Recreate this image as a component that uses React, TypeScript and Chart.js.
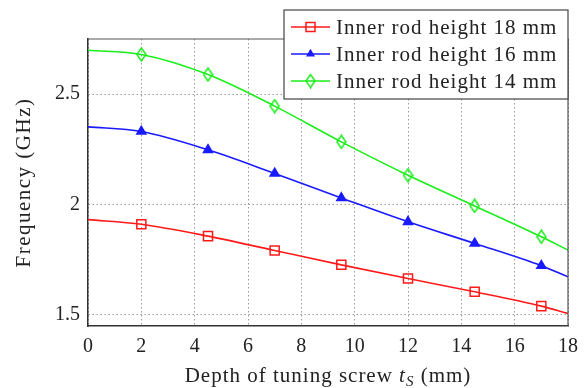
import React, { useEffect, useRef } from 'react';
import { Chart, registerables } from 'chart.js';

Chart.register(...registerables);

const xValues = [0, 2, 4.5, 7, 9.5, 12, 14.5, 17, 18];
const rod18 = [1.932, 1.911, 1.857, 1.792, 1.727, 1.665, 1.605, 1.54, 1.507];
const rod16 = [2.352, 2.331, 2.248, 2.141, 2.03, 1.922, 1.824, 1.723, 1.673];
const rod14 = [2.699, 2.68, 2.589, 2.446, 2.284, 2.133, 1.994, 1.854, 1.794];
const seriesLabels = ['Inner rod height 18 mm', 'Inner rod height 16 mm', 'Inner rod height 14 mm'];
const xTicks = [0, 2, 4, 6, 8, 10, 12, 14, 16, 18];
const yTicks = [1.5, 2, 2.5];
const xTitle = ['Depth of tuning screw ', 't', 'S', ' (mm)'];
const yTitle = 'Frequency (GHz)';

const RED = '#ff1a1a';
const BLUE = '#1a1aff';
const GREEN = '#1aee1a';
const SERIF = '"Liberation Serif", "DejaVu Serif", serif';

function makeDiamond(color: string) {
  const c = document.createElement('canvas');
  c.width = 11;
  c.height = 15;
  const g = c.getContext('2d')!;
  g.strokeStyle = color;
  g.lineWidth = 1.5;
  g.beginPath();
  g.moveTo(5.5, 1);
  g.lineTo(10, 7.5);
  g.lineTo(5.5, 14);
  g.lineTo(1, 7.5);
  g.closePath();
  g.stroke();
  return c;
}

function radii(r: number) {
  return xValues.map((_, i) => (i === 0 || i === xValues.length - 1 ? 0 : r));
}

export default function App() {
  const ref = useRef<HTMLCanvasElement | null>(null);

  useEffect(() => {
    const canvas = ref.current!;
    const diamond = makeDiamond(GREEN);

    const drawMarker = (ctx: CanvasRenderingContext2D, kind: number, x: number, y: number) => {
      ctx.save();
      if (kind === 0) {
        ctx.strokeStyle = RED;
        ctx.lineWidth = 1.5;
        ctx.strokeRect(x - 4.5, y - 4.5, 9, 9);
      } else if (kind === 1) {
        ctx.fillStyle = BLUE;
        ctx.beginPath();
        ctx.moveTo(x, y - 5.2);
        ctx.lineTo(x + 4.5, y + 2.6);
        ctx.lineTo(x - 4.5, y + 2.6);
        ctx.closePath();
        ctx.fill();
      } else {
        ctx.drawImage(diamond, x - diamond.width / 2, y - diamond.height / 2);
      }
      ctx.restore();
    };

    const decor = {
      id: 'decor',
      afterDraw(chart: any) {
        const ctx: CanvasRenderingContext2D = chart.ctx;
        const { left, right, top, bottom } = chart.chartArea;
        ctx.save();
        // top and right frame
        ctx.strokeStyle = '#555';
        ctx.lineWidth = 1.2;
        ctx.beginPath();
        ctx.moveTo(left, top);
        ctx.lineTo(right, top);
        ctx.lineTo(right, bottom);
        ctx.stroke();

        // legend
        const bw = 284;
        const bx = right - bw;
        const by = 10;
        const bh = 89;
        ctx.fillStyle = '#fff';
        ctx.fillRect(bx, by, bw, bh);
        ctx.strokeStyle = '#444';
        ctx.lineWidth = 1.2;
        ctx.strokeRect(bx, by, bw, bh);
        const colors = [RED, BLUE, GREEN];
        ctx.font = `21px ${SERIF}`;
        ctx.textBaseline = 'middle';
        ctx.textAlign = 'left';
        (ctx as any).letterSpacing = '1px';
        seriesLabels.forEach((lab, i) => {
          const y = by + 17 + i * 27;
          ctx.strokeStyle = colors[i];
          ctx.lineWidth = 1.6;
          ctx.beginPath();
          ctx.moveTo(bx + 7, y);
          ctx.lineTo(bx + 46, y);
          ctx.stroke();
          drawMarker(ctx, i, bx + 26.5, y);
          ctx.fillStyle = '#222';
          ctx.fillText(lab, bx + 52, y + 1);
        });

        // x title
        ctx.fillStyle = '#222';
        ctx.textBaseline = 'alphabetic';
        const fNorm = `21px ${SERIF}`;
        const fIt = `italic 21px ${SERIF}`;
        const fSub = `italic 15px ${SERIF}`;
        const fonts = [fNorm, fIt, fSub, fNorm];
        const widths = xTitle.map((t, i) => {
          ctx.font = fonts[i];
          return ctx.measureText(t).width;
        });
        const total = widths.reduce((a, b) => a + b, 0);
        let cx = (left + right) / 2 - total / 2;
        const baseY = 382;
        xTitle.forEach((t, i) => {
          ctx.font = fonts[i];
          ctx.fillText(t, cx, i === 2 ? baseY + 4 : baseY);
          cx += widths[i];
        });

        // y title
        ctx.save();
        ctx.translate(24, (top + bottom) / 2);
        ctx.rotate(-Math.PI / 2);
        ctx.font = `21px ${SERIF}`;
        ctx.textAlign = 'center';
        ctx.textBaseline = 'middle';
        (ctx as any).letterSpacing = '1.5px';
        ctx.fillText(yTitle, 0, 0);
        ctx.restore();
        ctx.restore();
      },
    };

    const mk = (data: number[], color: string, style: any, r: number, fill: string) => ({
      data: xValues.map((x, i) => ({ x, y: data[i] })),
      borderColor: color,
      backgroundColor: fill,
      borderWidth: 1.6,
      pointStyle: style,
      pointRadius: radii(r),
      pointBorderColor: color,
      pointBackgroundColor: fill,
      pointBorderWidth: 1.5,
      cubicInterpolationMode: 'monotone' as const,
      fill: false,
    });

    const chart = new Chart(canvas, {
      type: 'line',
      data: {
        datasets: [
          mk(rod18, RED, 'rect', 6.4, 'rgba(255,255,255,0)'),
          mk(rod16, BLUE, 'triangle', 5.2, BLUE),
          mk(rod14, GREEN, diamond, 6, 'rgba(255,255,255,0)'),
        ],
      },
      options: {
        animation: false,
        responsive: false,
        events: [],
        layout: { padding: { left: 0, top: 39, right: 12, bottom: 0 } },
        plugins: { legend: { display: false }, tooltip: { enabled: false } },
        scales: {
          x: {
            type: 'linear',
            min: 0,
            max: 18,
            afterBuildTicks: (s: any) => {
              s.ticks = xTicks.map((v) => ({ value: v }));
            },
            afterFit: (s: any) => {
              s.height = 62;
            },
            grid: { color: '#999', lineWidth: 1, drawTicks: false },
            border: { color: '#333', width: 1.5, dash: [1.5, 2.5] } as any,
            ticks: {
              color: '#222',
              font: { family: SERIF, size: 20 },
              padding: 9,
              maxRotation: 0,
              callback: (v: any) => String(v),
            },
          },
          y: {
            type: 'linear',
            min: 1.45,
            max: 2.75,
            afterBuildTicks: (s: any) => {
              s.ticks = yTicks.map((v) => ({ value: v }));
            },
            afterFit: (s: any) => {
              s.width = 88;
            },
            grid: { color: '#999', lineWidth: 1, drawTicks: false },
            border: { color: '#333', width: 1.5, dash: [1.5, 2.5] } as any,
            ticks: {
              color: '#222',
              font: { family: SERIF, size: 20 },
              padding: 8,
              callback: (v: any) => String(v),
            },
          },
        },
      },
      plugins: [decor],
    });
    return () => chart.destroy();
  }, []);

  return (
    <div style={{ position: 'fixed', left: 0, top: 0, width: 587, height: 388, background: '#fff' }}>
      <canvas ref={ref} width={587} height={388} style={{ width: 587, height: 388, display: 'block' }} />
    </div>
  );
}
